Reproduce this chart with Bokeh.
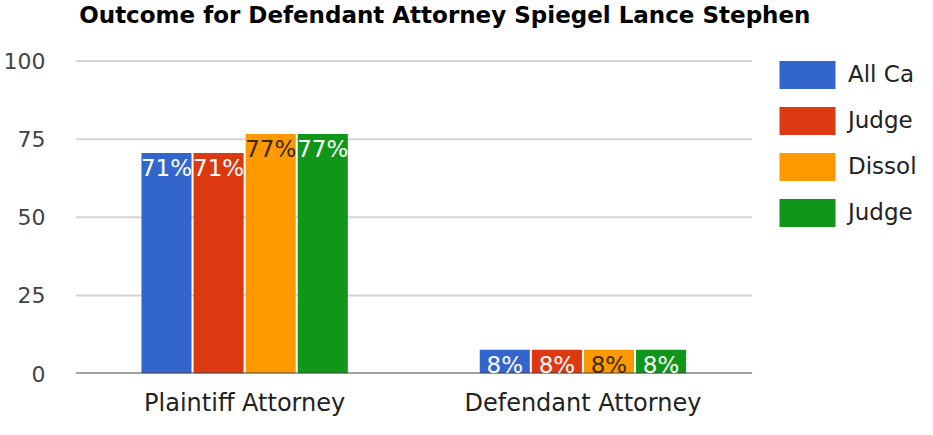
from bokeh.plotting import figure
from bokeh.models import (ColumnDataSource, Range1d, FixedTicker,
                          Legend, LegendItem, LabelSet, Label)
from bokeh.core.properties import value
from bokeh.transform import dodge
from bokeh.embed import file_html
from bokeh.resources import INLINE

title_text = "Outcome for Defendant Attorney Spiegel Lance Stephen"
categories = ["Plaintiff Attorney", "Defendant Attorney"]
series_names = ["All Ca", "Judge", "Dissol", "Judge"]
all_cases = [70.6, 7.6]
judge_1 = [70.6, 7.6]
dissol = [76.7, 7.6]
judge_2 = [76.7, 7.6]
labels_all_cases = ["71%", "8%"]
labels_judge_1 = ["71%", "8%"]
labels_dissol = ["77%", "8%"]
labels_judge_2 = ["77%", "8%"]
y_ticks = [0, 25, 50, 75, 100]

colors = ["#3366cc", "#dc3912", "#ff9900", "#109618"]
label_colors = ["#ffffff", "#ffffff", "#3a2a10", "#ffffff"]
FONT = "DejaVu Sans"

series_values = [all_cases, judge_1, dissol, judge_2]
series_labels = [labels_all_cases, labels_judge_1, labels_dissol, labels_judge_2]
offsets = [-0.231, -0.077, 0.077, 0.231]

n_cat = len(categories)
positions = [i + 0.5 for i in range(n_cat)]

# frame covers the legend / title area too; plot area is the first n_cat bands
p = figure(width=917, height=419, x_range=Range1d(0, 2.489),
           y_range=Range1d(0, 119.4), output_backend="svg", toolbar_location=None,
           min_border_left=75, min_border_right=0, min_border_top=0,
           min_border_bottom=46)
p.outline_line_color = None
p.background_fill_color = "white"
p.border_fill_color = "white"
p.xgrid.visible = False
p.ygrid.visible = False

# horizontal gridlines over the category area only
grid_ticks = [t for t in y_ticks if t > 0]
p.segment(x0=[0] * len(grid_ticks), x1=[n_cat] * len(grid_ticks),
          y0=grid_ticks, y1=grid_ticks, line_color="#d4d4d4", line_width=2)

p.yaxis.ticker = FixedTicker(ticks=y_ticks)
p.yaxis.axis_line_color = None
p.yaxis.major_tick_line_color = None
p.yaxis.minor_tick_line_color = None
p.yaxis.major_tick_out = 0
p.yaxis.major_tick_in = 0
p.yaxis.major_label_standoff = 30
p.yaxis.major_label_text_font = FONT
p.yaxis.major_label_text_font_size = "22px"
p.yaxis.major_label_text_color = "#444444"

p.xaxis.ticker = FixedTicker(ticks=positions)
p.xaxis.major_label_overrides = {pos: cat for pos, cat in zip(positions, categories)}
p.xaxis.axis_line_color = None
p.xaxis.major_tick_line_color = None
p.xaxis.minor_tick_line_color = None
p.xaxis.major_tick_out = 0
p.xaxis.major_tick_in = 0
p.xaxis.major_label_standoff = 15
p.xaxis.major_label_text_font = FONT
p.xaxis.major_label_text_font_size = "24px"
p.xaxis.major_label_text_color = "#222222"

items = []
for name, vals, labs, col, lcol, off in zip(series_names, series_values, series_labels,
                                            colors, label_colors, offsets):
    src = ColumnDataSource(dict(pos=positions, val=vals, lab=labs))
    r = p.vbar(x=dodge("pos", off), top="val", width=0.148,
               source=src, fill_color=col, line_color=None)
    ls = LabelSet(x=dodge("pos", off), y="val", text="lab",
                  source=src, text_align="center", text_baseline="alphabetic",
                  y_offset=-23, text_font=value(FONT), text_font_size=value("23px"),
                  text_color=value(lcol))
    p.add_layout(ls)
    items.append(LegendItem(label=name, renderers=[r]))

# baseline (x axis line) under the categories
p.segment(x0=[0], x1=[n_cat], y0=[0], y1=[0], line_color="#444444", line_width=2)

legend = Legend(items=items, location=(697, 143.5), orientation="vertical",
                glyph_width=70, glyph_height=35, spacing=11, label_standoff=6,
                label_text_font=FONT, label_text_font_size="23px",
                label_text_color="#222222", padding=0, margin=0,
                border_line_color=None, background_fill_alpha=0)
p.add_layout(legend)

title = Label(x=3.7, y=359, x_units="screen", y_units="screen", text=title_text,
              text_font=FONT, text_font_style="bold", text_font_size="23px",
              text_color="#000000", text_baseline="alphabetic", text_align="left")
p.add_layout(title)

open("out.html", "w").write(file_html(p, INLINE))
